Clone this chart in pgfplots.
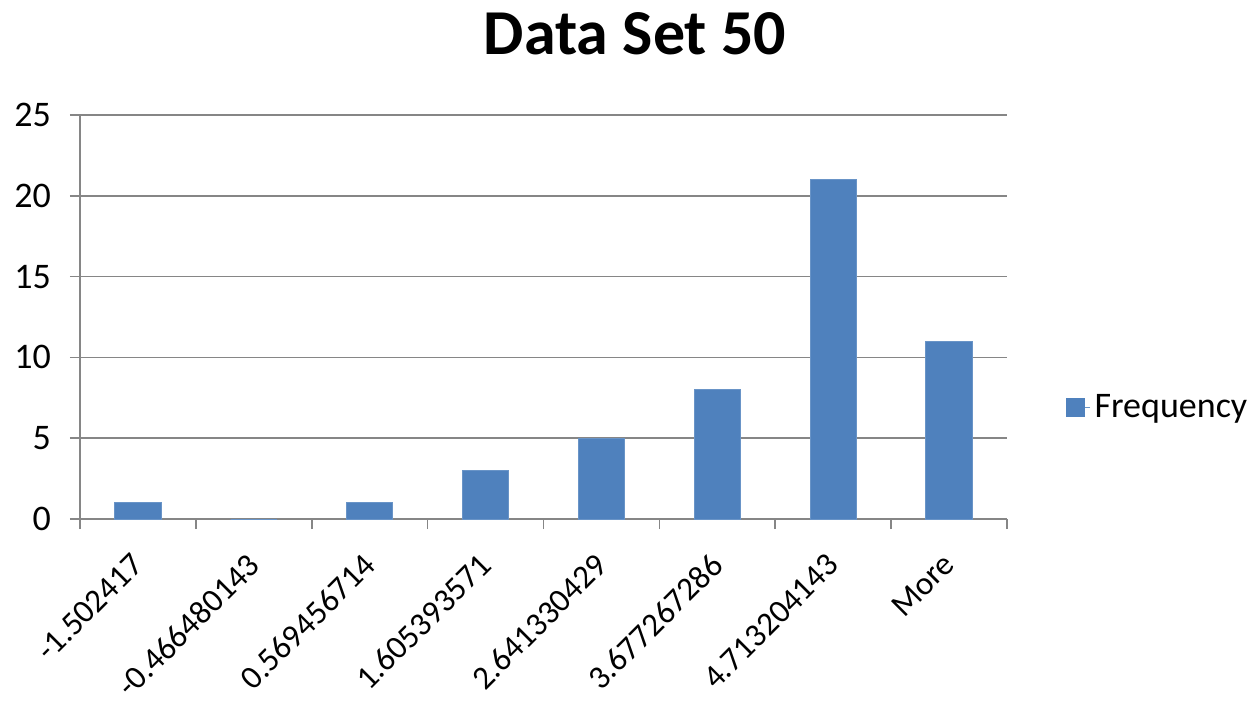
\documentclass[border=0pt]{standalone}
\usepackage{pgfplots}
\pgfplotsset{compat=1.18}
\usepackage{fontspec}
\setmainfont{Carlito}
\definecolor{barblue}{HTML}{4F81BD}
\definecolor{axisgray}{HTML}{868686}
\begin{document}
\begin{tikzpicture}
\path[use as bounding box] (0,0) rectangle (629.5pt,-354pt);
\node[font=\bfseries\fontsize{32}{38}\selectfont] at (317.5pt,-17pt) {Data Set 50};
\begin{axis}[
  at={(40pt,-259.5pt)}, anchor=south west,
  scale only axis, width=463.5pt, height=202pt,
  xmin=-0.5, xmax=7.5, ymin=0, ymax=25,
  axis x line*=bottom, axis y line*=left,
  axis line style={axisgray, line width=0.8pt},
  ytick={0,5,...,25},
  ymajorgrids, grid style={axisgray, line width=0.8pt},
  xtick={0,...,7},
  xticklabels={-1.502417,-0.466480143,0.569456714,1.605393571,2.641330429,3.677267286,4.713204143,More},
  minor xtick={-0.5,0.5,...,7.5},
  tick align=outside,
  major tick length=5pt, minor tick length=5pt,
  x tick style={draw=none},
  minor x tick style={draw=axisgray, line width=0.8pt},
  y tick style={axisgray, line width=0.8pt},
  xticklabel style={font=\fontsize{16.5}{20}\selectfont, inner sep=0pt,
    xshift=-4pt, yshift=-11pt, rotate=45, anchor=north east},
  yticklabel style={font=\fontsize{18}{21}\selectfont, xshift=-6pt},
  /pgf/number format/assume math mode=true,
  legend style={draw=none, fill=none, at={(1.063,0.277)}, anchor=west,
    font=\fontsize{18}{21}\selectfont, inner sep=0pt},
  legend image code/.code={\path (0pt,0pt) -- (12pt,0pt);
    \fill[barblue] (0pt,-4.5pt) rectangle (9pt,4.5pt);},
]
\addplot[ybar, bar width=0.4, fill=barblue, draw=barblue!85!white]
  coordinates {(0,1) (1,0) (2,1) (3,3) (4,5) (5,8) (6,21) (7,11)};
\addlegendentry{Frequency}
\end{axis}
\end{tikzpicture}
\end{document}
